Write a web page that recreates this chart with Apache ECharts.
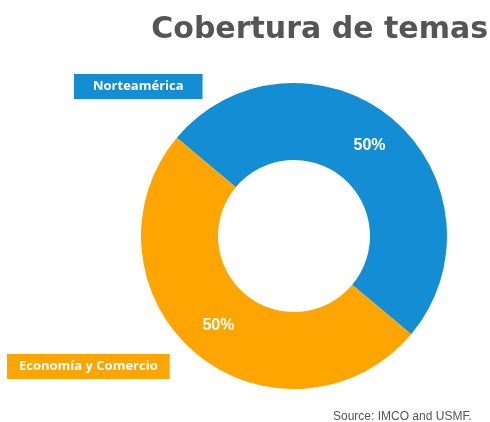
<!DOCTYPE html>
<html>
<head>
<meta charset="utf-8">
<script src="https://cdn.jsdelivr.net/npm/echarts@6/dist/echarts.min.js"></script>
<style>
  html, body { margin: 0; padding: 0; background: #fff; }
  #main { width: 490px; height: 422px; }
</style>
</head>
<body>
<div id="main"></div>
<script>
// datos
var categories = ["Norteamérica", "Economía y Comercio"];
var values = [50, 50];
var colors = ["#138dd4", "#ffa502"];

var myChart = echarts.init(document.getElementById('main'));

var option = {
    // titulo + etiquetas de categoria + fuente
    title: [{
        text: "Cobertura de temas",
        right: -3,
        top: 10,
        textStyle: { fontFamily: "DejaVu Sans", fontWeight: "bold", fontSize: 30, color: "#555555" }
    }, {
        text: categories[0],
        left: 74,
        top: 74,
        backgroundColor: colors[0],
        padding: [5, 19, 5, 19],
        textStyle: { fontFamily: "Open Sans", fontWeight: "bold", fontSize: 13, color: "#fff", lineHeight: 15 }
    }, {
        text: categories[1],
        left: 7,
        top: 354,
        backgroundColor: colors[1],
        padding: [5, 12, 5, 12],
        textStyle: { fontFamily: "Open Sans", fontWeight: "bold", fontSize: 13, color: "#fff", lineHeight: 15 }
    }, {
        text: "Source: IMCO and USMF.",
        left: 333,
        top: 411,
        padding: 0,
        textStyle: { fontFamily: "Liberation Sans", fontWeight: "normal", fontSize: 12, color: "#555555" }
    }],
    series: [{
        type: "pie",
        radius: [76, 153],
        center: [294, 236],
        startAngle: 140,
        clockwise: true,
        silent: true,
        color: colors,
        label: {
            position: "inside",
            formatter: "{d}%",
            color: "#fff",
            fontFamily: "Liberation Sans",
            fontWeight: "bold",
            fontSize: 16
        },
        labelLine: { show: false },
        data: categories.map(function (c, i) { return { name: c, value: values[i] }; })
    }]
};

myChart.setOption(option);
</script>
</body>
</html>
